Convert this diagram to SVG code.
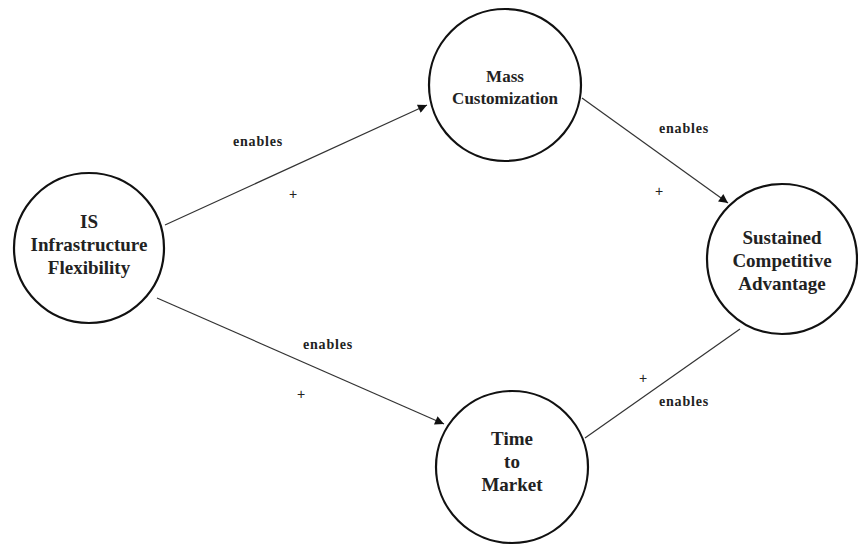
<svg xmlns="http://www.w3.org/2000/svg" width="858" height="545" viewBox="0 0 858 545">
<style>
.node{fill:#fff;stroke:#111;stroke-width:2.2}
.nt{font-family:"Liberation Serif","Times New Roman",serif;font-weight:bold;font-size:19px;fill:#222;text-anchor:middle}
.sm{font-size:17px}
.edge{stroke:#333;stroke-width:1.2;fill:none}
.lbl{font-family:"Liberation Serif","Times New Roman",serif;font-weight:bold;font-size:14px;fill:#222;text-anchor:middle;letter-spacing:0.8px}
.plus{font-family:"Liberation Sans",sans-serif;font-size:14px;fill:#222;text-anchor:middle}
</style>
<defs>
<marker id="ah" viewBox="0 0 10 10" refX="10" refY="5" markerWidth="11" markerHeight="9" markerUnits="userSpaceOnUse" orient="auto">
<path d="M0,0 L10,5 L0,10 z" fill="#111"/>
</marker>
</defs>
<rect width="858" height="545" fill="#fff"/>
<g id="connectors">
<line class="edge" x1="165" y1="225" x2="427" y2="105" marker-end="url(#ah)"/>
<line class="edge" x1="157" y1="298" x2="444" y2="424" marker-end="url(#ah)"/>
<line class="edge" x1="582" y1="98" x2="728" y2="203" marker-end="url(#ah)"/>
<line class="edge" x1="585" y1="438" x2="740" y2="329"/>
<text class="lbl" x="258" y="146">enables</text>
<text class="plus" x="293" y="199">+</text>
<text class="lbl" x="328" y="349">enables</text>
<text class="plus" x="301" y="399">+</text>
<text class="lbl" x="684" y="133">enables</text>
<text class="plus" x="659" y="196">+</text>
<text class="plus" x="643" y="383">+</text>
<text class="lbl" x="684" y="406">enables</text>
</g>
<g id="is">
<circle class="node" cx="89" cy="248" r="75"/>
<text class="nt" x="89" y="228">IS</text>
<text class="nt" x="89" y="251">Infrastructure</text>
<text class="nt" x="89" y="274">Flexibility</text>
</g>
<g id="mass">
<circle class="node" cx="505" cy="85" r="76"/>
<text class="nt sm" x="505" y="82">Mass</text>
<text class="nt sm" x="505" y="104">Customization</text>
</g>
<g id="sustained">
<circle class="node" cx="782" cy="259" r="75"/>
<text class="nt" x="782" y="244">Sustained</text>
<text class="nt" x="782" y="267">Competitive</text>
<text class="nt" x="782" y="290">Advantage</text>
</g>
<g id="time">
<circle class="node" cx="512" cy="467" r="76"/>
<text class="nt" x="512" y="445">Time</text>
<text class="nt" x="512" y="468">to</text>
<text class="nt" x="512" y="491">Market</text>
</g>
</svg>
